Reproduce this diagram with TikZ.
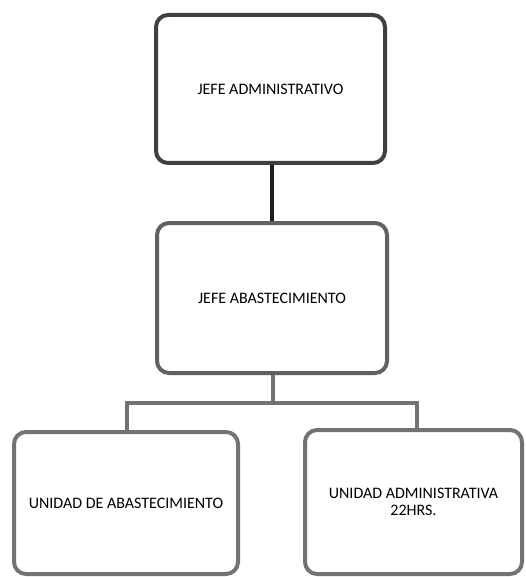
\documentclass[tikz,border=0pt]{standalone}
\usepackage{fontspec}
\setmainfont{Carlito}
\begin{document}
\begin{tikzpicture}[x=1pt,y=-1pt,
  orgbox/.style={draw=#1, line width=4pt, rounded corners=12pt, fill=white,
    align=center, font=\fontsize{16}{16.5}\selectfont, inner sep=0pt},
  link/.style={draw=#1, line width=4pt},
]
\useasboundingbox (0,0) rectangle (526,577);
% boxes, given by their corners
\node[orgbox=black!75, minimum width=229pt, minimum height=148pt] (ja) at (270.5,89) {JEFE ADMINISTRATIVO};
\node[orgbox=black!62, minimum width=230pt, minimum height=150pt] (jb) at (272,298) {JEFE ABASTECIMIENTO};
\node[orgbox=black!55, minimum width=224pt, minimum height=142pt] (ua) at (126,503) {UNIDAD DE ABASTECIMIENTO};
\node[orgbox=black!55, minimum width=217pt, minimum height=144pt] (ud) at (413.5,502) {UNIDAD ADMINISTRATIVA\\22HRS.};
% connectors
\coordinate (split) at (273,403);
\coordinate (lft) at (127,403);
\coordinate (rgt) at (417,403);
\draw[link=black!88] (ja.south -| 272,0) -- (jb.north -| 272,0);
\draw[link=black!55] (jb.south -| split) -- (split);
\draw[link=black!55] (lft |- ua.north) -- (lft) -- (rgt) -- (rgt |- ud.north);
\end{tikzpicture}
\end{document}
